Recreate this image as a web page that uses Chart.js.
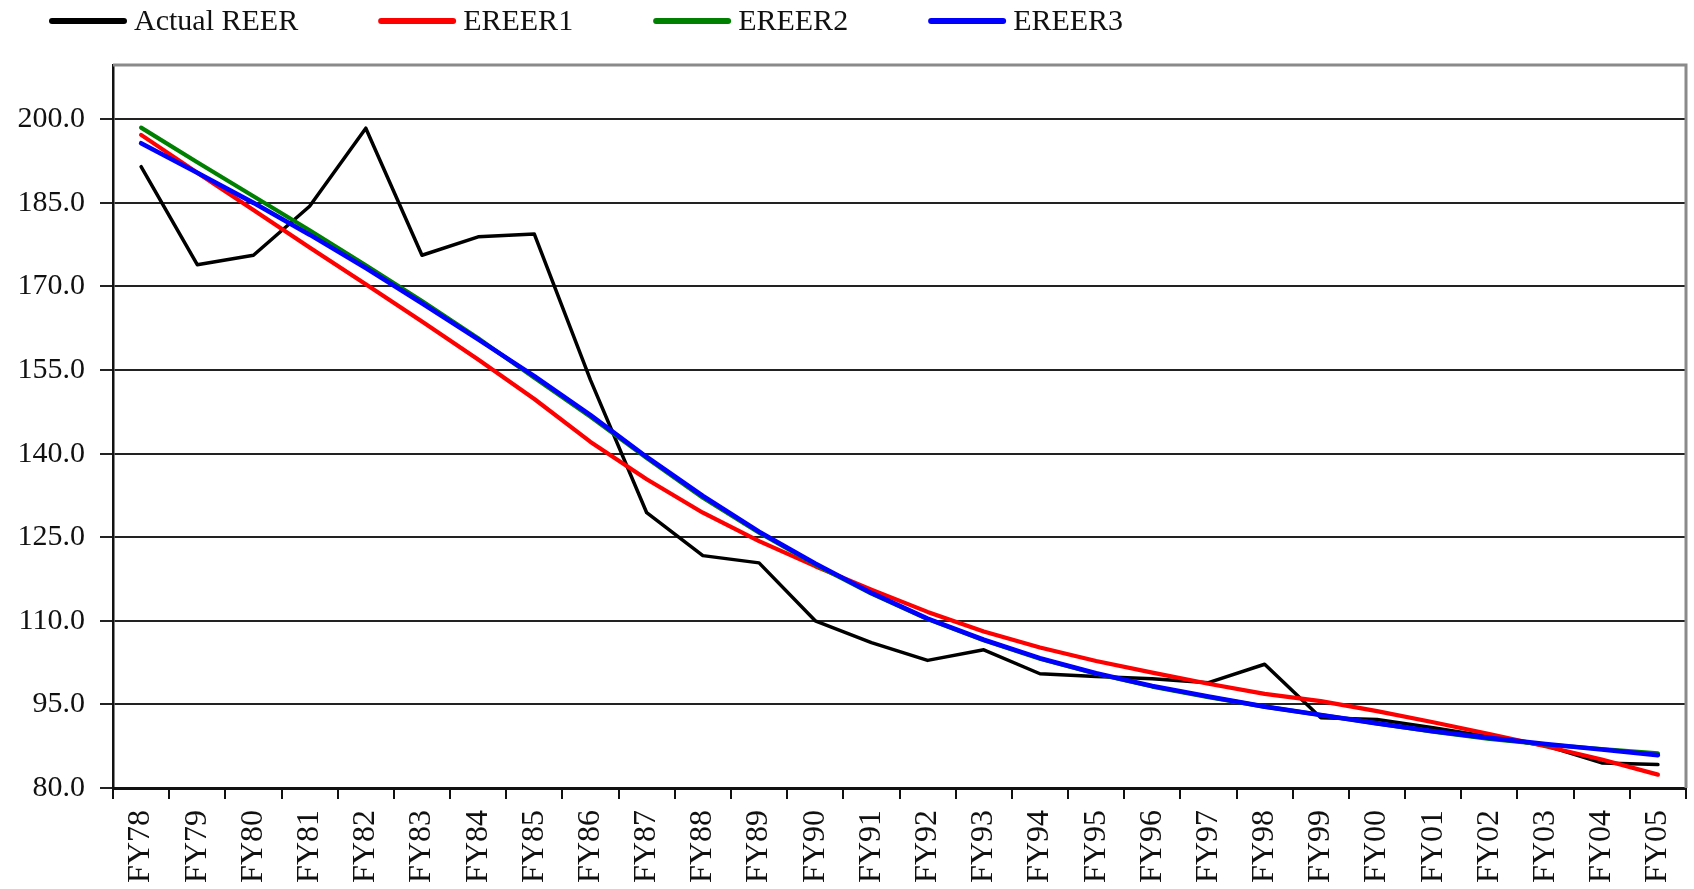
<!DOCTYPE html>
<html>
<head>
<meta charset="utf-8">
<script src="https://cdn.jsdelivr.net/npm/chart.js@4"></script>
<style>
html,body{margin:0;padding:0;background:#fff;}
#wrap{width:1694px;height:889px;position:relative;}
canvas{display:block;}
</style>
</head>
<body>
<div id="wrap"><canvas id="c" width="1694" height="889"></canvas></div>
<script>
const categories = ['FY78','FY79','FY80','FY81','FY82','FY83','FY84','FY85','FY86','FY87',
  'FY88','FY89','FY90','FY91','FY92','FY93','FY94','FY95','FY96','FY97',
  'FY98','FY99','FY00','FY01','FY02','FY03','FY04','FY05'];

const actualREER = [191.5,173.9,175.6,184.4,198.4,175.6,178.9,179.4,153.2,129.4,
  121.7,120.4,110.0,106.1,102.9,104.8,100.5,100.0,99.6,98.9,
  102.2,92.6,92.3,90.8,89.2,87.6,84.5,84.2];

const ereer1 = [197.2,190.4,183.7,177.0,170.4,163.7,156.9,149.8,142.1,135.4,
  129.4,124.3,119.8,115.6,111.6,108.1,105.2,102.8,100.7,98.7,
  96.9,95.6,93.8,91.8,89.7,87.5,85.1,82.4];

const ereer2 = [198.5,192.3,186.2,180.1,173.8,167.4,160.7,153.6,146.6,139.2,
  132.1,125.8,120.1,114.9,110.3,106.5,103.2,100.5,98.2,96.3,
  94.6,93.1,91.6,90.1,88.8,87.8,87.0,86.2];

const ereer3 = [195.7,190.4,185.0,179.3,173.3,167.0,160.5,153.9,146.9,139.4,
  132.4,126.0,120.3,115.0,110.4,106.6,103.3,100.6,98.3,96.4,
  94.6,93.1,91.6,90.2,89.0,87.9,86.9,85.9];

const yTicks = [80,95,110,125,140,155,170,185,200];
const seriesNames = ['Actual REER','EREER1','EREER2','EREER3'];
const seriesColors = ['#000000','#ff0000','#008000','#0000ff'];

const FONT = '"Liberation Serif", "Times New Roman", serif';

const legendPlugin = {
  id: 'customLegend',
  afterDraw(chart) {
    const ctx = chart.ctx;
    ctx.save();
    ctx.font = '30px ' + FONT;
    ctx.textBaseline = 'alphabetic';
    ctx.textAlign = 'left';
    let x = 49;
    const yLine = 21;
    chart.data.datasets.forEach(ds => {
      ctx.strokeStyle = ds.borderColor;
      ctx.lineWidth = 6;
      ctx.lineCap = 'round';
      ctx.beginPath();
      ctx.moveTo(x + 3, yLine);
      ctx.lineTo(x + 75, yLine);
      ctx.stroke();
      ctx.fillStyle = '#111';
      ctx.fillText(ds.label, x + 85, 30);
      x += 85 + ctx.measureText(ds.label).width + 80;
    });
    ctx.restore();
  }
};

const borderPlugin = {
  id: 'plotBorder',
  beforeDatasetsDraw(chart) {
    const {ctx, chartArea: a} = chart;
    ctx.save();
    ctx.strokeStyle = '#8a8a8a';
    ctx.lineWidth = 3;
    ctx.beginPath();
    ctx.moveTo(a.left, a.top);
    ctx.lineTo(a.right, a.top);
    ctx.lineTo(a.right, a.bottom);
    ctx.stroke();
    ctx.restore();
  }
};

const allSeries = [actualREER, ereer1, ereer2, ereer3];
const widths = [3.5, 4.2, 4.2, 4.6];

new Chart(document.getElementById('c'), {
  type: 'line',
  data: {
    labels: categories,
    datasets: allSeries.map((d, i) => ({
      label: seriesNames[i],
      data: d,
      borderColor: seriesColors[i],
      backgroundColor: seriesColors[i],
      borderWidth: widths[i],
      pointRadius: 0,
      tension: 0,
      fill: false,
      borderJoinStyle: 'round',
      borderCapStyle: 'round',
      order: 4 - i
    }))
  },
  options: {
    responsive: false,
    animation: false,
    devicePixelRatio: 1,
    layout: { padding: { top: 65, right: 8, left: 0, bottom: 0 } },
    plugins: {
      legend: { display: false },
      tooltip: { enabled: false }
    },
    scales: {
      x: {
        type: 'category',
        offset: true,
        afterFit: s => { s.height = 101; s.paddingLeft = 0; s.paddingRight = 0; },
        ticks: {
          minRotation: 90, maxRotation: 90, autoSkip: false,
          font: { family: FONT, size: 32 }, color: '#111', padding: 11
        },
        grid: {
          offset: true, drawOnChartArea: false, drawTicks: true,
          tickLength: 11, color: '#111', lineWidth: 2
        },
        border: { display: true, color: '#111', width: 3 }
      },
      y: {
        type: 'linear',
        min: 80,
        max: 209.74,
        afterBuildTicks: s => { s.ticks = yTicks.map(v => ({ value: v })); },
        afterFit: s => { s.width = 113; s.paddingTop = 0; s.paddingBottom = 0; },
        ticks: {
          autoSkip: false,
          callback: v => Number(v).toFixed(1),
          font: { family: FONT, size: 30 }, color: '#111', padding: 15
        },
        grid: { color: '#222', lineWidth: 2, tickLength: 13, drawTicks: true },
        border: { display: true, color: '#111', width: 2.5 }
      }
    }
  },
  plugins: [legendPlugin, borderPlugin]
});
</script>
</body>
</html>
